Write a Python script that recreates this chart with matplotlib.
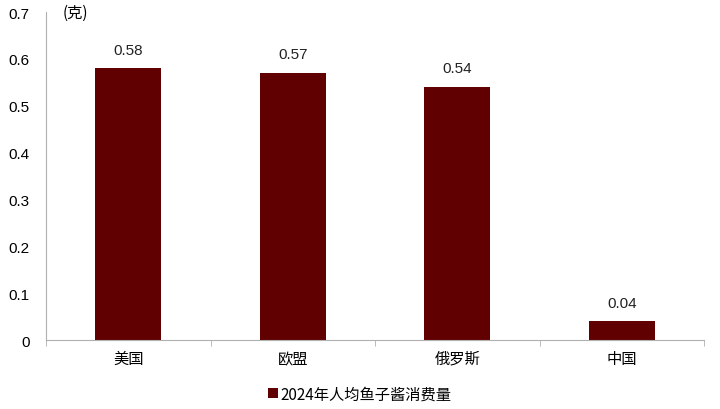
import numpy as np
import matplotlib.pyplot as plt

plt.rcParams['font.family'] = ['Noto Sans CJK SC', 'DejaVu Sans']

categories = ['美国', '欧盟', '俄罗斯', '中国']
values = [0.58, 0.57, 0.54, 0.04]
labels = ['0.58', '0.57', '0.54', '0.04']
yticks = [0, 0.1, 0.2, 0.3, 0.4, 0.5, 0.6, 0.7]
ytick_labels = ['0', '0.1', '0.2', '0.3', '0.4', '0.5', '0.6', '0.7']
series_name = '2024年人均鱼子酱消费量'

bar_color = '#600000'
axis_color = '#b0b0b0'

fig = plt.figure(figsize=(7.2, 4.1), dpi=100)
ax = fig.add_axes([0.064, 0.168, 0.914, 0.80])

x = np.arange(len(categories))
bars = ax.bar(x, values, width=0.4, color=bar_color, label=series_name)

for xi, v, t in zip(x, values, labels):
    ax.text(xi, v + 0.025, t, ha='center', va='bottom', fontsize=11,
            family=['Liberation Sans', 'DejaVu Sans'], color='#222222')

ax.set_xlim(-0.5, len(categories) - 0.5)
ax.set_ylim(0, 0.7)
ax.set_yticks(yticks)
ax.set_yticklabels(ytick_labels, family=['Liberation Sans', 'DejaVu Sans'], fontsize=11)
ax.set_xticks(x)
ax.set_xticklabels(categories, fontsize=11)
ax.tick_params(axis='x', length=0, pad=7)
ax.set_xticks(np.arange(len(categories) + 1) - 0.5, minor=True)
ax.tick_params(axis='x', which='minor', length=4, color=axis_color)
ax.tick_params(axis='y', length=0, pad=12)

for s in ['top', 'right']:
    ax.spines[s].set_visible(False)
ax.spines['left'].set_color(axis_color)
ax.spines['bottom'].set_color(axis_color)

ax.text(0.025, 0.7, '(克)', transform=ax.get_yaxis_transform(), fontsize=11,
        va='center', ha='left')

fig.legend(handles=[bars], labels=[series_name], loc='center',
           bbox_to_anchor=(0.5, 0.037), frameon=False, fontsize=11,
           handlelength=0.6, handleheight=0.6, handletextpad=0.2)

fig.savefig('out.png', dpi=100)
